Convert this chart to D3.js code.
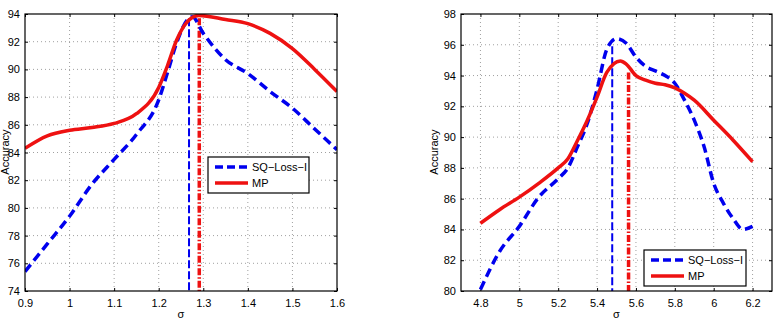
<!DOCTYPE html>
<html>
<head>
<meta charset="utf-8">
<script src="https://cdn.jsdelivr.net/npm/d3@7"></script>
<style>
  body { margin: 0; background: #fff; }
  svg text { font-family: "Liberation Sans", Arial, sans-serif; font-size: 11px; fill: #000; }
</style>
</head>
<body>
<svg width="780" height="322"></svg>
<script>
// left panel data
const sigmaA = [0.9, 0.95, 1.0, 1.05, 1.1, 1.15, 1.2, 1.22, 1.24, 1.263, 1.29, 1.35, 1.4, 1.45, 1.5, 1.55, 1.6];
const mpA = [84.3, 85.2, 85.6, 85.8, 86.1, 86.8, 88.7, 90.3, 92.1, 93.4, 93.9, 93.6, 93.3, 92.6, 91.5, 90.0, 88.4];
const sqSigmaA = [0.9, 0.95, 1.0, 1.05, 1.1, 1.15, 1.2, 1.22, 1.24, 1.265, 1.275, 1.3, 1.35, 1.4, 1.45, 1.5, 1.55, 1.6];
const sqA = [75.4, 77.4, 79.4, 81.7, 83.5, 85.3, 87.8, 89.8, 91.9, 93.6, 93.8, 92.6, 90.7, 89.7, 88.4, 87.2, 85.7, 84.2];
const xTicksA = [0.9, 1, 1.1, 1.2, 1.3, 1.4, 1.5, 1.6];
const yTicksA = [74, 76, 78, 80, 82, 84, 86, 88, 90, 92, 94];
const vlinesA = { sq: [1.268, 93.7], mp: [1.291, 93.7] };

// right panel data
const sigmaB = [4.8, 4.9, 5.0, 5.1, 5.2, 5.25, 5.3, 5.35, 5.4, 5.45, 5.52, 5.55, 5.6, 5.65, 5.7, 5.75, 5.8, 5.85, 5.9, 6.0, 6.1, 6.2];
const mpB = [84.4, 85.3, 86.1, 87.0, 88.0, 88.6, 89.8, 91.1, 92.6, 94.2, 94.95, 94.75, 94.0, 93.7, 93.5, 93.4, 93.2, 92.85, 92.4, 91.1, 89.8, 88.4];
const sqSigmaB = [4.8, 4.9, 5.0, 5.1, 5.2, 5.25, 5.3, 5.35, 5.4, 5.45, 5.5, 5.55, 5.6, 5.65, 5.7, 5.75, 5.8, 5.85, 5.9, 5.95, 6.0, 6.05, 6.1, 6.15, 6.2];
const sqB = [80.1, 82.6, 84.2, 86.1, 87.3, 88.0, 89.4, 90.9, 93.1, 95.7, 96.4, 96.1, 95.2, 94.6, 94.3, 94.0, 93.5, 92.4, 91.1, 89.4, 87.0, 85.7, 84.7, 84.0, 84.2];
const xTicksB = [4.8, 5, 5.2, 5.4, 5.6, 5.8, 6, 6.2];
const yTicksB = [80, 82, 84, 86, 88, 90, 92, 94, 96, 98];
const vlinesB = { sq: [5.478, 95.9], mp: [5.562, 94.2] };

const svg = d3.select('svg');

function panel(opt) {
    const x = d3.scaleLinear().domain(opt.xDomain).range([opt.left, opt.right]);
    const y = d3.scaleLinear().domain(opt.yDomain).range([291, 14]);
    const g = svg.append('g');

    // grid
    g.append('g').selectAll('line').data(opt.xTicks.filter(t => x(t) > opt.left + 1 && x(t) < opt.right - 1))
        .enter().append('line')
        .attr('x1', d => x(d)).attr('x2', d => x(d)).attr('y1', 14).attr('y2', 291)
        .attr('stroke', '#888').attr('stroke-width', 0.8).attr('stroke-dasharray', '1,3');
    g.append('g').selectAll('line').data(opt.yTicks.filter(t => y(t) > 15 && y(t) < 290))
        .enter().append('line')
        .attr('x1', opt.left).attr('x2', opt.right).attr('y1', d => y(d)).attr('y2', d => y(d))
        .attr('stroke', '#888').attr('stroke-width', 0.8).attr('stroke-dasharray', '1,3');

    // axes
    g.append('g').attr('transform', 'translate(0,291)')
        .call(d3.axisBottom(x).tickValues(opt.xTicks).tickSize(-3).tickPadding(8).tickFormat(d3.format('')))
        .call(a => a.select('.domain').remove());
    g.append('g').attr('transform', 'translate(0,14)')
        .call(d3.axisTop(x).tickValues(opt.xTicks).tickSize(-3).tickFormat(''))
        .call(a => a.select('.domain').remove());
    g.append('g').attr('transform', `translate(${opt.left},0)`)
        .call(d3.axisLeft(y).tickValues(opt.yTicks).tickSize(-3).tickPadding(5).tickFormat(d3.format('')))
        .call(a => a.select('.domain').remove());
    g.append('g').attr('transform', `translate(${opt.right},0)`)
        .call(d3.axisRight(y).tickValues(opt.yTicks).tickSize(-3).tickFormat(''))
        .call(a => a.select('.domain').remove());
    g.selectAll('.tick text').attr('font-size', 11).attr('font-family', '"Liberation Sans", Arial, sans-serif');

    const clipId = 'clip' + opt.left;
    g.append('clipPath').attr('id', clipId).append('rect')
        .attr('x', opt.left).attr('y', 14).attr('width', opt.right - opt.left).attr('height', 277);
    const plot = g.append('g').attr('clip-path', `url(#${clipId})`);

    const line = d3.line().x(d => x(d[0])).y(d => y(d[1])).curve(d3.curveMonotoneX);

    // vertical markers
    plot.append('line')
        .attr('x1', x(opt.vl.sq[0])).attr('x2', x(opt.vl.sq[0]))
        .attr('y1', y(opt.vl.sq[1])).attr('y2', 291)
        .attr('stroke', '#0000ee').attr('stroke-width', 2).attr('stroke-dasharray', '8,3');
    plot.append('line')
        .attr('x1', x(opt.vl.mp[0])).attr('x2', x(opt.vl.mp[0]))
        .attr('y1', y(opt.vl.mp[1])).attr('y2', 291)
        .attr('stroke', '#ee1111').attr('stroke-width', 3.5).attr('stroke-dasharray', '7,2,1.5,2');

    plot.append('path').datum(d3.zip(opt.sqX, opt.sqY))
        .attr('fill', 'none').attr('stroke', '#0000ee').attr('stroke-width', 3.5)
        .attr('stroke-dasharray', '9,5').attr('d', line);
    plot.append('path').datum(d3.zip(opt.mpX, opt.mpY))
        .attr('fill', 'none').attr('stroke', '#ee1111').attr('stroke-width', 3.5).attr('d', line);

    // box
    g.append('rect').attr('x', opt.left).attr('y', 14).attr('width', opt.right - opt.left).attr('height', 277)
        .attr('fill', 'none').attr('stroke', '#000').attr('stroke-width', 1.2);

    // labels
    g.append('text').attr('x', (opt.left + opt.right) / 2).attr('y', 318)
        .attr('text-anchor', 'middle').text('σ');
    g.append('text').attr('transform', `translate(${opt.yLabelX},152) rotate(-90)`)
        .attr('text-anchor', 'middle').text('Accuracy');

    // legend
    const L = opt.legend;
    const lg = g.append('g');
    lg.append('clipPath').attr('id', 'lclip' + opt.left).append('rect')
        .attr('x', L.x).attr('y', L.y).attr('width', L.w).attr('height', 36);
    lg.append('rect').attr('x', L.x).attr('y', L.y).attr('width', L.w).attr('height', 36)
        .attr('fill', '#fff').attr('stroke', '#000').attr('stroke-width', 1.2);
    const items = [
        { name: 'SQ−Loss−I', color: '#0000ee', dash: '8,4' },
        { name: 'MP', color: '#ee1111', dash: null }
    ];
    const inner = lg.append('g').attr('clip-path', `url(#lclip${opt.left})`);
    items.forEach((it, i) => {
        const yy = L.y + 10 + i * 16;
        inner.append('line').attr('x1', L.x + 7).attr('x2', L.x + 40).attr('y1', yy).attr('y2', yy)
            .attr('stroke', it.color).attr('stroke-width', 3.5).attr('stroke-dasharray', it.dash);
        inner.append('text').attr('x', L.x + 44).attr('y', yy + 4).attr('font-size', 12).text(it.name);
    });
}

panel({
    xDomain: [0.9, 1.6], yDomain: [74, 94], left: 25, right: 337,
    xTicks: xTicksA, yTicks: yTicksA,
    sqX: sqSigmaA, sqY: sqA, mpX: sigmaA, mpY: mpA, vl: vlinesA,
    yLabelX: 9, legend: { x: 208, y: 157, w: 101 }
});

panel({
    xDomain: [4.7, 6.3], yDomain: [80, 98], left: 461, right: 772,
    xTicks: xTicksB, yTicks: yTicksB,
    sqX: sqSigmaB, sqY: sqB, mpX: sigmaB, mpY: mpB, vl: vlinesB,
    yLabelX: 438, legend: { x: 644, y: 250, w: 102 }
});
</script>
</body>
</html>
